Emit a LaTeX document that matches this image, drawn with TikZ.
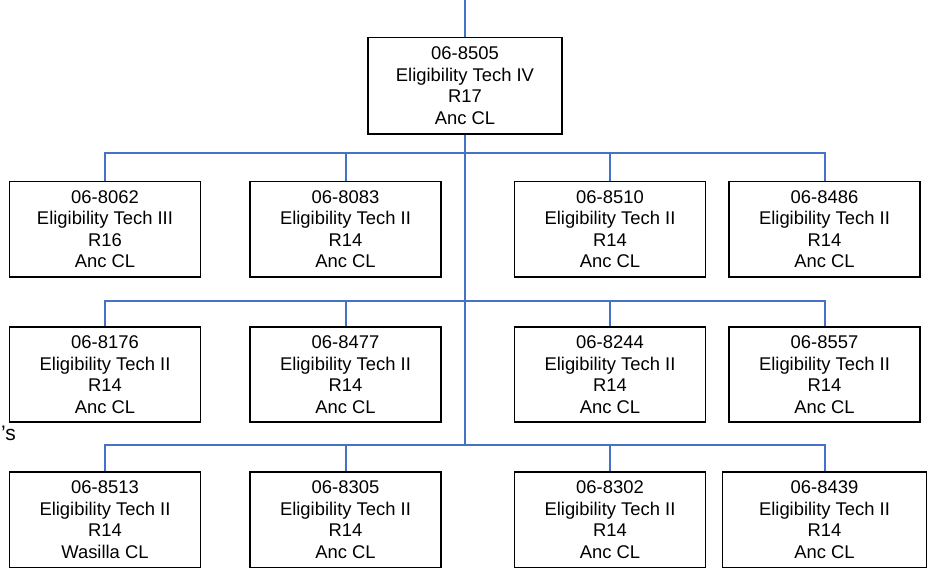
\documentclass[tikz,border=0pt]{standalone}
\usepackage{fontspec}
\setmainfont{Liberation Sans}
\usetikzlibrary{positioning}
\definecolor{OrgBlue}{RGB}{68,114,196}
\tikzset{
  link/.style={draw=OrgBlue,line width=2pt},
  posbox/.style={draw=black,line width=1.8pt,fill=white,align=center,
    minimum width=191pt,minimum height=95.5pt,inner sep=2pt,
    font=\fontsize{18.4}{21.6}\selectfont}
}
\begin{document}
\begin{tikzpicture}[x=1pt,y=1pt,node distance=48pt]
  \useasboundingbox (0,0) rectangle (930,-572);
  \node[posbox,minimum width=194pt,minimum height=96.5pt] (top) at (465,-85.7) {06-8505\\Eligibility Tech IV\\R17\\Anc CL};
  % first row
  \node[posbox] (r1c1) at (105,-229.2) {06-8062\\Eligibility Tech III\\R16\\Anc CL};
  \node[posbox] (r1c2) at (345.5,-229.2) {06-8083\\Eligibility Tech II\\R14\\Anc CL};
  \node[posbox] (r1c3) at (610,-229.2) {06-8510\\Eligibility Tech II\\R14\\Anc CL};
  \node[posbox] (r1c4) at (824.5,-229.2) {06-8486\\Eligibility Tech II\\R14\\Anc CL};
  % second row
  \node[posbox,below=of r1c1] (r2c1) {06-8176\\Eligibility Tech II\\R14\\Anc CL};
  \node[posbox,below=of r1c2] (r2c2) {06-8477\\Eligibility Tech II\\R14\\Anc CL};
  \node[posbox,below=of r1c3] (r2c3) {06-8244\\Eligibility Tech II\\R14\\Anc CL};
  \node[posbox,below=of r1c4] (r2c4) {06-8557\\Eligibility Tech II\\R14\\Anc CL};
  % third row
  \node[posbox,below=of r2c1] (r3c1) {06-8513\\Eligibility Tech II\\R14\\Wasilla CL};
  \node[posbox,below=of r2c2] (r3c2) {06-8305\\Eligibility Tech II\\R14\\Anc CL};
  \node[posbox,below=of r2c3] (r3c3) {06-8302\\Eligibility Tech II\\R14\\Anc CL};
  \node[posbox,below=of r2c4,minimum width=204pt] (r3c4) {06-8439\\Eligibility Tech II\\R14\\Anc CL};
  \node[font=\fontsize{21}{24}\selectfont,anchor=base east,inner sep=0pt] (cut) at (16,-440.5) {’s};
  \coordinate (feed) at (465,0);
  \coordinate (bus1) at (465,-152.7);
  \coordinate (bus2) at (465,-301);
  \coordinate (bus3) at (465,-445);
  \draw[link] (feed) -- (top.north);
  \draw[link] (top.south) -- (bus3);
  \draw[link] (r1c1.north) |- (bus1) -| (r1c4.north);
  \draw[link] (bus1) -| (r1c2.north);
  \draw[link] (bus1) -| (r1c3.north);
  \draw[link] (r2c1.north) |- (bus2) -| (r2c4.north);
  \draw[link] (bus2) -| (r2c2.north);
  \draw[link] (bus2) -| (r2c3.north);
  \draw[link] (r3c1.north) |- (bus3) -| (r3c4.north);
  \draw[link] (bus3) -| (r3c2.north);
  \draw[link] (bus3) -| (r3c3.north);
\end{tikzpicture}
\end{document}
